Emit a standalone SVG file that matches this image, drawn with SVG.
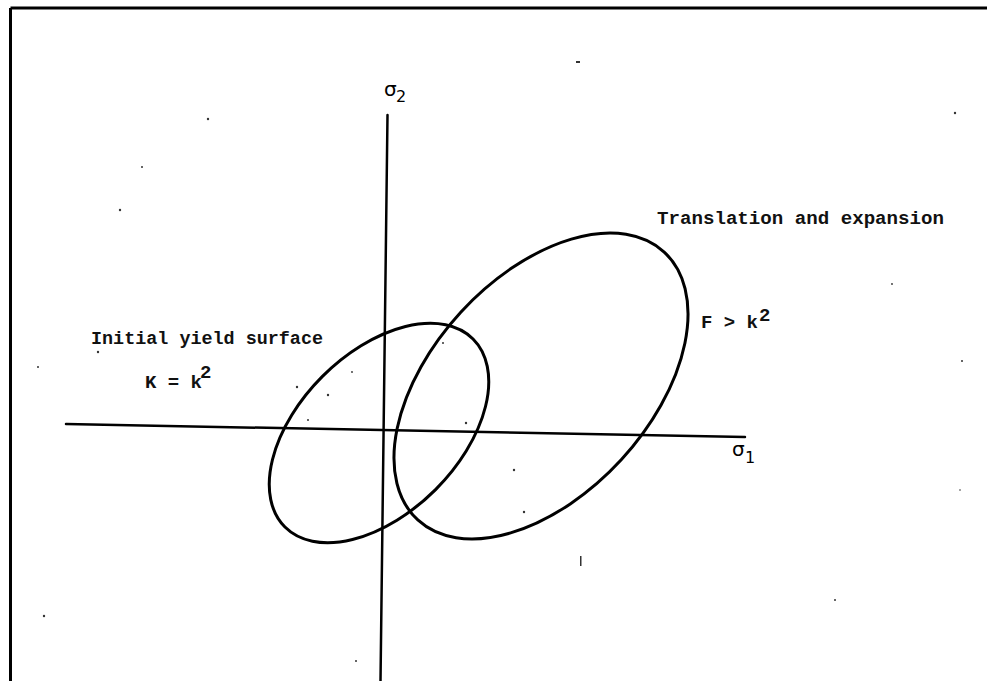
<svg xmlns="http://www.w3.org/2000/svg" width="987" height="681" viewBox="0 0 987 681">
<style>
.ax{stroke:#000;stroke-width:2.5;fill:none;stroke-linecap:round}
.el{stroke:#000;stroke-width:3;fill:none}
.lbl{font-family:"Liberation Mono","DejaVu Sans Mono",monospace;font-size:19px;font-weight:bold;fill:#111}
.sym{font-family:"DejaVu Sans","Liberation Sans",sans-serif;fill:#000}
.sp{fill:#333}
</style>
<rect width="987" height="681" fill="#fff"/>
<g id="frame">
<line x1="10.5" y1="8" x2="987" y2="8" stroke="#000" stroke-width="3"/>
<line x1="10.5" y1="8" x2="10.5" y2="681" stroke="#000" stroke-width="3"/>
</g>
<g id="connectors">
<line id="axis-s2" class="ax" x1="387.5" y1="115" x2="380.5" y2="681"/>
<line id="axis-s1" class="ax" x1="66" y1="424" x2="745" y2="437"/>
</g>
<g id="initial-surface">
<ellipse class="el" cx="379" cy="433" rx="133" ry="80" transform="rotate(-45 379 433)"/>
</g>
<g id="translated-surface">
<ellipse class="el" cx="541" cy="386" rx="182" ry="109" transform="rotate(-47.4 541 386)"/>
</g>
<g id="label-s2">
<text class="sym" x="384" y="96" font-size="20">σ</text>
<text class="sym" x="396" y="102" font-size="16">2</text>
</g>
<g id="label-s1">
<text class="sym" x="732" y="456" font-size="20">σ</text>
<text class="sym" x="745" y="463" font-size="16">1</text>
</g>
<g id="label-translation">
<text class="lbl" x="657" y="224" textLength="287" lengthAdjust="spacingAndGlyphs">Translation and expansion</text>
</g>
<g id="label-initial">
<text class="lbl" x="91" y="344" textLength="232" lengthAdjust="spacingAndGlyphs">Initial yield surface</text>
<text class="lbl" x="145" y="388">K = k</text>
<text class="lbl" x="200" y="378" font-size="15">2</text>
</g>
<g id="label-F">
<text class="lbl" x="701" y="328">F &gt; k</text>
<text class="lbl" x="759" y="321" font-size="15">2</text>
</g>
<g id="specks">
<circle class="sp" cx="208" cy="119" r="1.2"/>
<circle class="sp" cx="142" cy="167" r="1"/>
<circle class="sp" cx="955" cy="113" r="1.2"/>
<rect class="sp" x="576" y="61" width="4" height="2"/>
<circle class="sp" cx="120" cy="210" r="1.2"/>
<circle class="sp" cx="98" cy="352" r="1.2"/>
<circle class="sp" cx="352" cy="372" r="0.9"/>
<circle class="sp" cx="297" cy="387" r="1.2"/>
<circle class="sp" cx="328" cy="395" r="1.2"/>
<circle class="sp" cx="308" cy="420" r="1"/>
<circle class="sp" cx="443" cy="343" r="1"/>
<circle class="sp" cx="466" cy="423" r="1.2"/>
<circle class="sp" cx="514" cy="470" r="1.2"/>
<circle class="sp" cx="524" cy="512" r="1.2"/>
<rect class="sp" x="580" y="556" width="1.5" height="10"/>
<circle class="sp" cx="44" cy="616" r="1.2"/>
<circle class="sp" cx="356" cy="661" r="1"/>
<circle class="sp" cx="38" cy="367" r="1"/>
<circle class="sp" cx="892" cy="284" r="0.9"/>
<circle class="sp" cx="962" cy="361" r="1"/>
<circle class="sp" cx="960" cy="490" r="0.8"/>
<circle class="sp" cx="835" cy="600" r="1"/>
</g>
</svg>
